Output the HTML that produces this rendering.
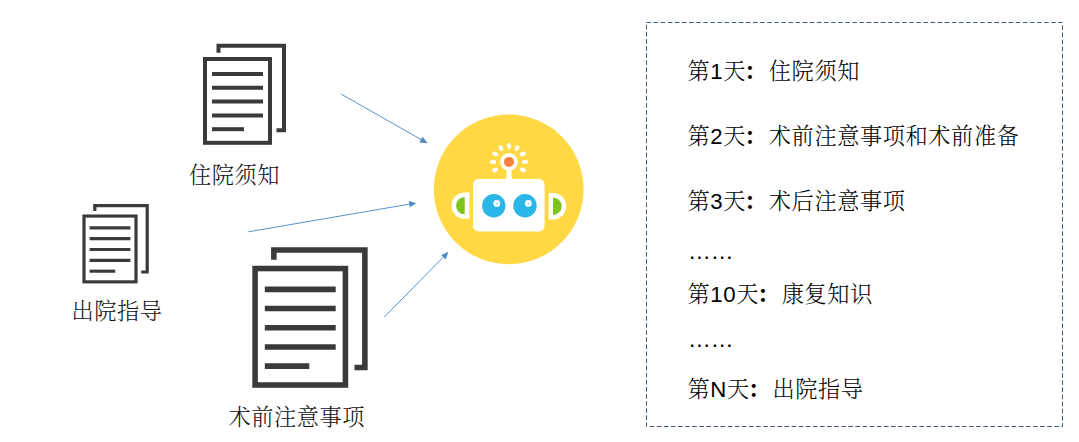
<!DOCTYPE html>
<html lang="zh-CN">
<head>
<meta charset="utf-8">
<title>智能随访</title>
<style>
html,body{margin:0;padding:0;background:#fff;}
body{width:1079px;height:442px;position:relative;overflow:hidden;font-family:"Liberation Sans","Noto Serif CJK SC",serif;color:#000;}
svg{position:absolute;left:0;top:0;}
.lbl{position:absolute;white-space:nowrap;font-size:22.2px;letter-spacing:0.6px;line-height:28px;font-family:"Liberation Sans","Noto Serif CJK SC",serif;font-weight:300;color:#111;}
.row{position:absolute;left:687.5px;white-space:nowrap;font-size:22.2px;letter-spacing:0.6px;line-height:28px;font-weight:300;color:#000;}
.c{font-weight:700;margin-left:-2px;margin-right:2px;}
.e{font-size:22.8px;letter-spacing:0;left:688px;}
</style>
</head>
<body>
<svg width="1079" height="442" viewBox="0 0 1079 442">
  <defs>
    <g id="doc">
      <!-- 0..100 wide unit doc icon: front page 0..68 x 14..102 ; back page 14..82 x 0..88 -->
      <path d="M15.5 9.7 V2.7 H81 V87.2 H73.5" fill="none" stroke="#3a3a3a" stroke-width="4"/>
      <rect x="2" y="16" width="65" height="83.8" fill="#fff" stroke="#3a3a3a" stroke-width="4"/>
      <g stroke="#3a3a3a" stroke-width="4">
        <line x1="9" y1="31" x2="60" y2="31"/>
        <line x1="9" y1="44.8" x2="60" y2="44.8"/>
        <line x1="9" y1="58.6" x2="60" y2="58.6"/>
        <line x1="9" y1="72.4" x2="60" y2="72.4"/>
        <line x1="9" y1="86.2" x2="41" y2="86.2"/>
      </g>
    </g>
  </defs>
  <!-- doc 1 -->
  <use href="#doc" transform="translate(203,43)"/>
  <!-- doc 2 -->
  <use href="#doc" transform="translate(82.4,203.5) scale(0.8,0.785)"/>
  <!-- doc 3 -->
  <use href="#doc" transform="translate(252.3,246.3) scale(1.39)"/>

  <!-- arrows -->
  <g stroke="#5b93cc" stroke-width="1" fill="#4f8ac6">
    <line x1="341.2" y1="94.1" x2="424" y2="141.2"/>
    <polygon points="427.7,143.3 419.4,142.4 422.6,136.8" stroke="none"/>
    <line x1="248.5" y1="231.8" x2="412" y2="203.7"/>
    <polygon points="416.3,203 409.8,207.4 408.7,201" stroke="none"/>
    <line x1="384.3" y1="317" x2="445.5" y2="254.8"/>
    <polygon points="448.4,251.8 445.8,259.4 441.2,254.9" stroke="none"/>
  </g>

  <!-- robot -->
  <circle cx="508.7" cy="189.4" r="74.9" fill="#ffd844"/>
  <g fill="#fff">
    <rect x="473" y="179" width="71.6" height="52.4" rx="5.5"/>
    <rect x="506.5" y="166" width="5" height="15"/>
    <path d="M504.6 179.5 Q506.5 179 506.5 176.5 H511.5 Q511.5 179 513.4 179.5 Z"/>
    <circle cx="509.0" cy="161.9" r="8.8"/>
    <ellipse cx="525.0" cy="161.9" rx="3" ry="2.1" transform="rotate(30 509.0 161.9)"/>
    <ellipse cx="525.0" cy="161.9" rx="3" ry="2.1" transform="rotate(0 509.0 161.9)"/>
    <ellipse cx="525.0" cy="161.9" rx="3" ry="2.1" transform="rotate(-30 509.0 161.9)"/>
    <ellipse cx="525.0" cy="161.9" rx="3" ry="2.1" transform="rotate(-60 509.0 161.9)"/>
    <ellipse cx="525.0" cy="161.9" rx="3" ry="2.1" transform="rotate(-90 509.0 161.9)"/>
    <ellipse cx="525.0" cy="161.9" rx="3" ry="2.1" transform="rotate(-120 509.0 161.9)"/>
    <ellipse cx="525.0" cy="161.9" rx="3" ry="2.1" transform="rotate(-150 509.0 161.9)"/>
    <ellipse cx="525.0" cy="161.9" rx="3" ry="2.1" transform="rotate(-180 509.0 161.9)"/>
    <ellipse cx="525.0" cy="161.9" rx="3" ry="2.1" transform="rotate(-210 509.0 161.9)"/>
    <path d="M469.4 192.4 V218.8 H464.7 A13.2 13.2 0 0 1 464.7 192.4 Z"/>
    <path d="M548.6 193 V219.4 H553 A13.2 13.2 0 0 0 553 193 Z"/>
  </g>
  <circle cx="509.0" cy="161.9" r="5" fill="#f6803c"/>
  <path d="M464.7 196.9 V214.3 A8.7 8.7 0 0 1 464.7 196.9 Z" fill="#7fc31c"/>
  <path d="M553 197.5 V214.9 A8.7 8.7 0 0 0 553 197.5 Z" fill="#7fc31c"/>
  <circle cx="493.8" cy="205.7" r="11.7" fill="#29b6e9"/>
  <circle cx="525" cy="205.7" r="11.7" fill="#29b6e9"/>
  <circle cx="496.8" cy="203.5" r="3.4" fill="#fff"/>
  <circle cx="528.3" cy="203.4" r="3.4" fill="#fff"/>
  <circle cx="497" cy="203.5" r="1" fill="#9adbf3"/>
  <circle cx="528.5" cy="203.4" r="1" fill="#9adbf3"/>

  <!-- dashed box -->
  <rect x="646.5" y="22.5" width="416" height="404" fill="none" stroke="#40587a" stroke-width="1" stroke-dasharray="4.6 2.5"/>
</svg>

<div class="lbl" style="left:189px;top:162px;">住院须知</div>
<div class="lbl" style="left:71.4px;top:298px;">出院指导</div>
<div class="lbl" style="left:228.4px;top:404.3px;">术前注意事项</div>

<div class="row" style="top:58.2px;">第1天<span class="c">：</span>住院须知</div>
<div class="row" style="top:123.2px;">第2天<span class="c">：</span>术前注意事项和术前准备</div>
<div class="row" style="top:188.2px;">第3天<span class="c">：</span>术后注意事项</div>
<div class="row e" style="top:237.4px;">……</div>
<div class="row" style="top:281px;">第10天<span class="c">：</span>康复知识</div>
<div class="row e" style="top:324.8px;">……</div>
<div class="row" style="top:376.3px;">第N天<span class="c">：</span>出院指导</div>
</body>
</html>
